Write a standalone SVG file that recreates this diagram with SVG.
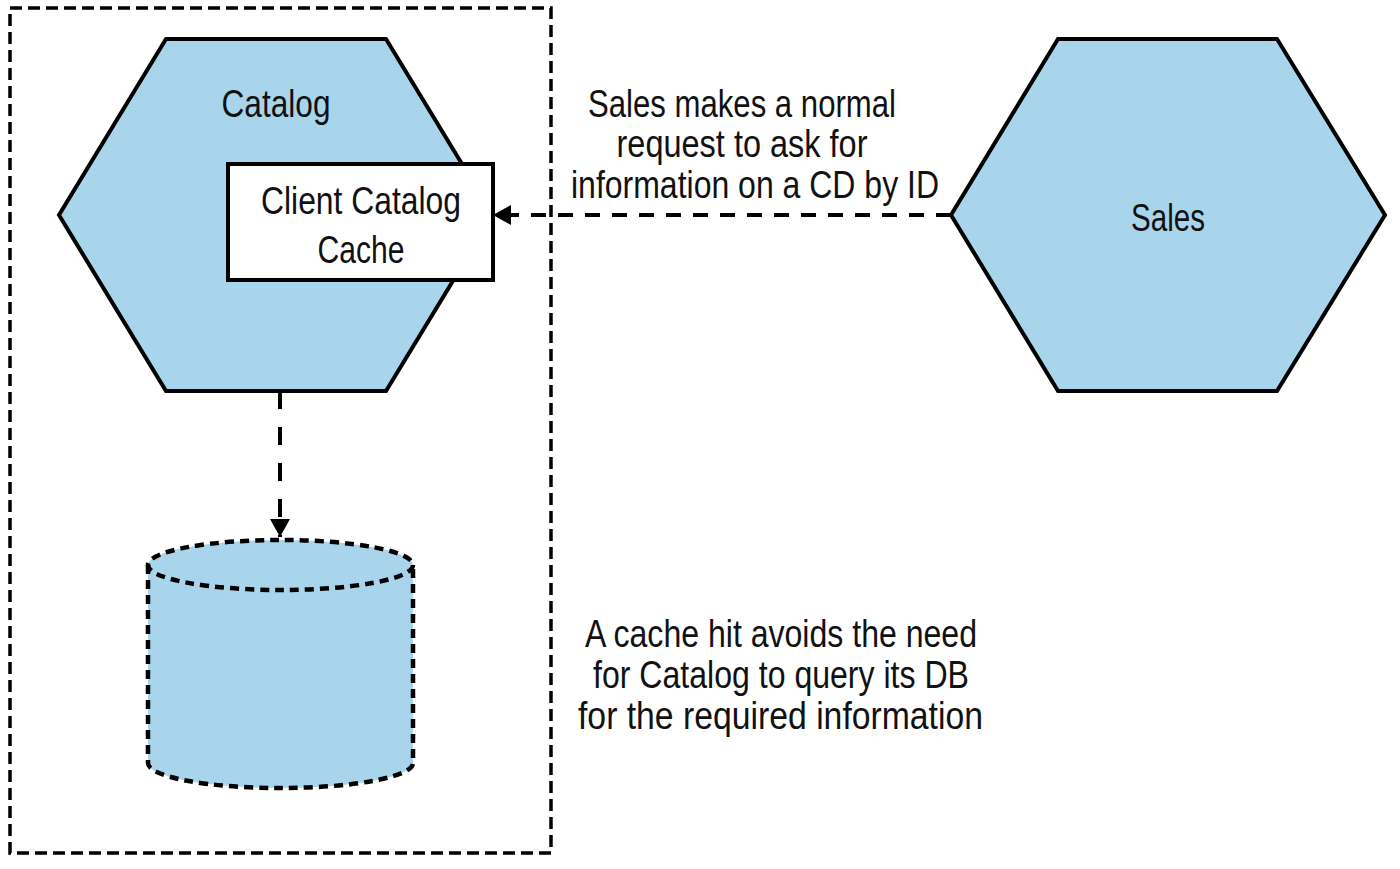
<svg xmlns="http://www.w3.org/2000/svg" width="1400" height="869" viewBox="0 0 1400 869">
<style>
.hex{fill:#a9d5ec;stroke:#000;stroke-width:4;stroke-linejoin:miter}
.box{fill:#fff;stroke:#000;stroke-width:4}
.t{font-family:"Liberation Sans",Arial,sans-serif;font-size:38px;fill:#111;text-anchor:middle}
.conn{fill:none;stroke:#000;stroke-width:4}
.bound{fill:none;stroke:#000;stroke-width:3.5;stroke-dasharray:12 6}
.db{fill:#a9d5ec;stroke:none}
.dbl{fill:none;stroke:#000;stroke-width:4.5;stroke-dasharray:9 6}
</style>
<defs>
<marker id="ah" markerWidth="18" markerHeight="20" refX="18" refY="10" orient="auto" markerUnits="userSpaceOnUse">
<path d="M0,0 L18,10 L0,20 Z" fill="#000"/>
</marker>
</defs>
<rect id="boundary" x="10" y="8" width="541" height="845" class="bound"/>
<g id="catalog">
<polygon class="hex" points="166,39 386,39 493,215 386,391 166,391 59,215"/>
<text class="t" x="276" y="117" textLength="109" lengthAdjust="spacingAndGlyphs">Catalog</text>
</g>
<g id="cache">
<rect class="box" x="228" y="164" width="265" height="116"/>
<text class="t" x="361" y="214" textLength="200" lengthAdjust="spacingAndGlyphs">Client Catalog</text>
<text class="t" x="361" y="263" textLength="87" lengthAdjust="spacingAndGlyphs">Cache</text>
</g>
<g id="sales">
<polygon class="hex" points="1058,39 1277,39 1385,215 1277,391 1058,391 951,215"/>
<text class="t" x="1168" y="231" textLength="74" lengthAdjust="spacingAndGlyphs">Sales</text>
</g>
<g id="db">
<path class="db" d="M148,565 A132.5,25 0 0 1 413,565 L413,763 A132.5,25 0 0 1 148,763 Z"/>
<ellipse class="dbl" cx="280.5" cy="565" rx="132.5" ry="25"/>
<path class="dbl" d="M148,565 L148,763 A132.5,25 0 0 0 413,763 L413,565"/>
</g>
<g id="connectors">
<path class="conn" d="M951,215 L493,215" stroke-dasharray="15 12" marker-end="url(#ah)"/>
<path class="conn" d="M280,391 L280,537" stroke-dasharray="18 18" marker-end="url(#ah)"/>
</g>
<g id="labels">
<text class="t" x="742" y="117" textLength="308" lengthAdjust="spacingAndGlyphs">Sales makes a normal</text>
<text class="t" x="742" y="157" textLength="251" lengthAdjust="spacingAndGlyphs">request to ask for</text>
<text class="t" x="755" y="198" textLength="368" lengthAdjust="spacingAndGlyphs">information on a CD by ID</text>
<text class="t" x="781" y="647" textLength="392" lengthAdjust="spacingAndGlyphs">A cache hit avoids the need</text>
<text class="t" x="781" y="688" textLength="376" lengthAdjust="spacingAndGlyphs">for Catalog to query its DB</text>
<text class="t" x="780.5" y="729" textLength="405" lengthAdjust="spacingAndGlyphs">for the required information</text>
</g>
</svg>
